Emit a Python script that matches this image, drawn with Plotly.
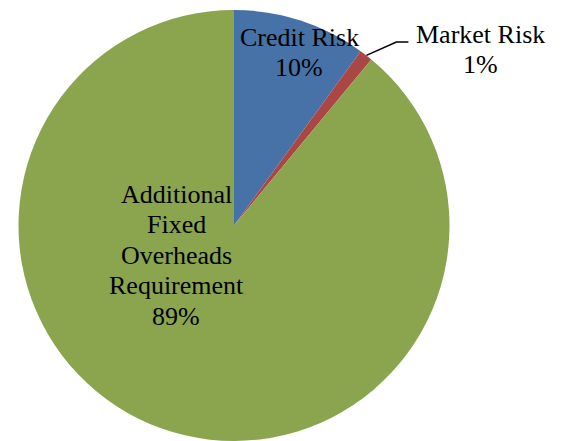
import math
import plotly.graph_objects as go

# ---- data ----
labels = ["Credit Risk", "Market Risk", "Additional Fixed Overheads Requirement"]
values = [10, 1, 89]
label_lines = [["Credit Risk"], ["Market Risk"], ["Additional", "Fixed", "Overheads", "Requirement"]]
colors = ["#4672A7", "#AA4643", "#8AA54E"]

W, H = 565, 441
CX, CY, R = 234, 226, 216  # pie geometry in pixels (layout)

# label anchor: (x center px, first line baseline px)
label_pos = [(299, 45), (481, 42), (176, 202)]
LINE_STEP = 30.5
FONT = dict(family="Liberation Serif", size=26, color="black")

fig = go.Figure(go.Pie(
    labels=labels, values=values, sort=False, direction="clockwise", rotation=0,
    marker=dict(colors=colors, line=dict(width=0)),
    textinfo="none", hoverinfo="label+percent", showlegend=False,
    domain=dict(x=[(CX - R) / W, (CX + R) / W], y=[0, 1 - (CY - R) / H]),
))

def px(x):
    return x / W

def py(y):
    return 1 - y / H

total = sum(values)
anns = []
for i, (lines, v) in enumerate(zip(label_lines, values)):
    x0, b0 = label_pos[i]
    all_lines = lines + [f"{round(100 * v / total)}%"]
    for j, t in enumerate(all_lines):
        base = b0 + j * LINE_STEP
        anns.append(dict(x=px(x0), y=py(base - 8), xref="paper", yref="paper",
                         text=t, showarrow=False, xanchor="center", yanchor="middle",
                         font=FONT))

# leader line for Market Risk from slice mid-angle
mid = (values[0] + values[1] / 2) / total * 2 * math.pi
sx = CX + R * math.sin(mid)
sy = CY - R * math.cos(mid)
kx, ky = sx + 30, 42
ex = kx + 12
path = f"M {px(sx)} {py(sy)} L {px(kx)} {py(ky)} L {px(ex)} {py(ky)}"
fig.update_layout(
    width=W, height=H, margin=dict(l=0, r=0, t=0, b=0),
    paper_bgcolor="white", plot_bgcolor="white",
    font=dict(family="Liberation Serif"),
    annotations=anns,
    shapes=[dict(type="path", path=path, xref="paper", yref="paper",
                 line=dict(color="black", width=1.5))],
)
fig.write_html("out.html")
